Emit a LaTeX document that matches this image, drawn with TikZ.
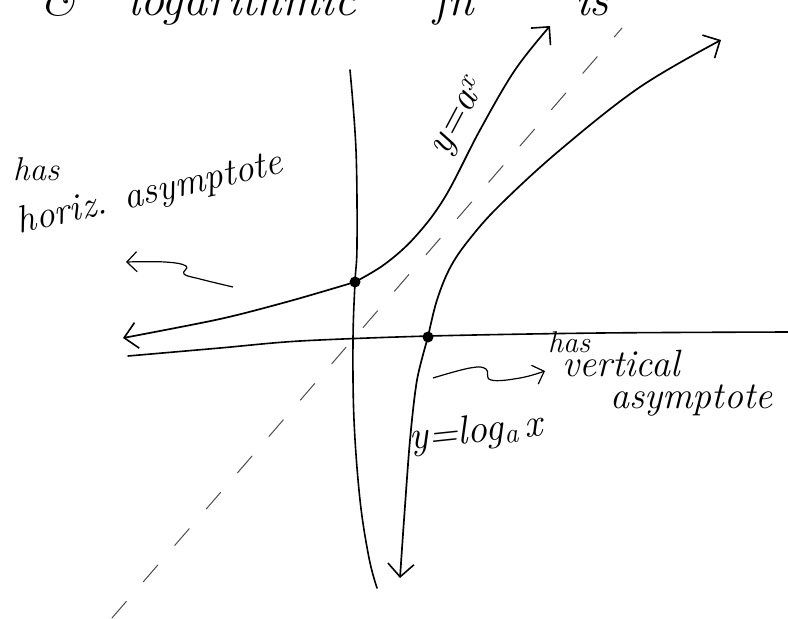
\documentclass[tikz,border=0pt]{standalone}
\usetikzlibrary{arrows.meta}
\begin{document}
\begin{tikzpicture}[x=1pt,y=-1pt,
  curve/.style={line width=1.7pt, line cap=round, line join=round},
  axis/.style={line width=1.6pt, line cap=round},
  guide/.style={line width=1pt, gray!60!black, dash pattern=on 22pt off 26pt, line cap=round},
  hand/.style={font=\itshape\fontsize{38}{42}\selectfont, inner sep=0pt},
  handsmall/.style={font=\itshape\fontsize{33}{36}\selectfont, inner sep=0pt},
  titletext/.style={font=\itshape\fontsize{48}{52}\selectfont, inner sep=0pt, anchor=base west},
  barb/.style={-{Straight Barb[length=13pt,width=26pt,line width=1.6pt]}},
  smallbarb/.style={-{Straight Barb[length=10pt,width=20pt,line width=1.2pt]}},
  dotmark/.style={circle, fill=black, minimum size=11pt, inner sep=0pt}]
\useasboundingbox (0,0) rectangle (788,619);
\clip (0,0) rectangle (788,619);

% cut-off title at top
\node[titletext] (t1) at (40,15) {\&};
\node[titletext] (t2) at (128,15) {logarithmic};
\node[titletext] (t3) at (433,15) {fn};
\node[titletext] (t4) at (575,15) {is};

% key points
\coordinate (ytop) at (350,70);
\coordinate (ybot) at (377,588);
\coordinate (xleft) at (128,356);
\coordinate (xright) at (788,332);
\coordinate (expL) at (123,338);
\coordinate (expR) at (550,26);
\coordinate (logB) at (400,578);
\coordinate (logT) at (721,40);
\coordinate (dL) at (112,618);
\coordinate (dR) at (622,28);

% y = x guide
\draw[guide] (dL) -- (dR);

% axes
\draw[axis] plot[smooth, tension=0.6] coordinates {(ytop) (356,150) (357,245) (355,282) (353,340) (354,420) (360,500) (369,558) (ybot)};
\draw[axis] plot[smooth, tension=0.5] coordinates {(xleft) (220,348) (300,341) (430,336) (600,333) (xright)};

% y = a^x
\draw[curve, barb] plot[smooth, tension=0.6] coordinates {(355,282) (385,264) (415,237) (445,197) (480,130) (515,70) (expR)};
\draw[curve, barb] plot[smooth, tension=0.5] coordinates {(355,282) (290,301) (220,319) (expL)};

% y = log_a x
\draw[curve, barb] plot[smooth, tension=0.5] coordinates {(428,337) (417,380) (410,440) (404,520) (logB)};
\draw[curve, barb] plot[smooth, tension=0.6] coordinates {(428,337) (437,300) (451,266) (472,236) (502,203) (560,150) (640,87) (logT)};

% intercept dots
\node[dotmark] (p1) at (355,282) {};
\node[dotmark] (p2) at (428,337) {};

% horizontal asymptote label
\node[handsmall, anchor=base west] (has1) at (13,180) {has};
\node[hand, rotate=13] (hz) at (150,194) {horiz. asymptote};
\coordinate (sq1a) at (233,287);
\coordinate (sq1b) at (126,262);
\draw[line width=1.2pt, smallbarb]
  plot[smooth, tension=0.7] coordinates {(sq1a) (200,279) (184,274) (186,266) (165,262) (sq1b)};

% vertical asymptote label
\node[handsmall, font=\itshape\fontsize{30}{34}\selectfont, anchor=base west] (has2) at (548,352) {has};
\node[hand, anchor=base west] (vt) at (562,376) {vertical};
\node[hand, anchor=base west] (as2) at (610,408) {asymptote};
\coordinate (sq2a) at (433,378);
\coordinate (sq2b) at (545,371);
\draw[line width=1.2pt, smallbarb]
  plot[smooth, tension=0.7] coordinates {(sq2a) (470,368) (486,369) (491,380) (520,378) (sq2b)};

% curve labels
\node[hand, font=\itshape\fontsize{40}{44}\selectfont, rotate=62] (lblexp) at (460,118) {y=a\textsuperscript{x}};
\node[hand, font=\itshape\fontsize{40}{44}\selectfont, rotate=6, anchor=base west] (lbllog) at (410,450) {y=log\textsubscript{a}\,x};
\end{tikzpicture}
\end{document}
